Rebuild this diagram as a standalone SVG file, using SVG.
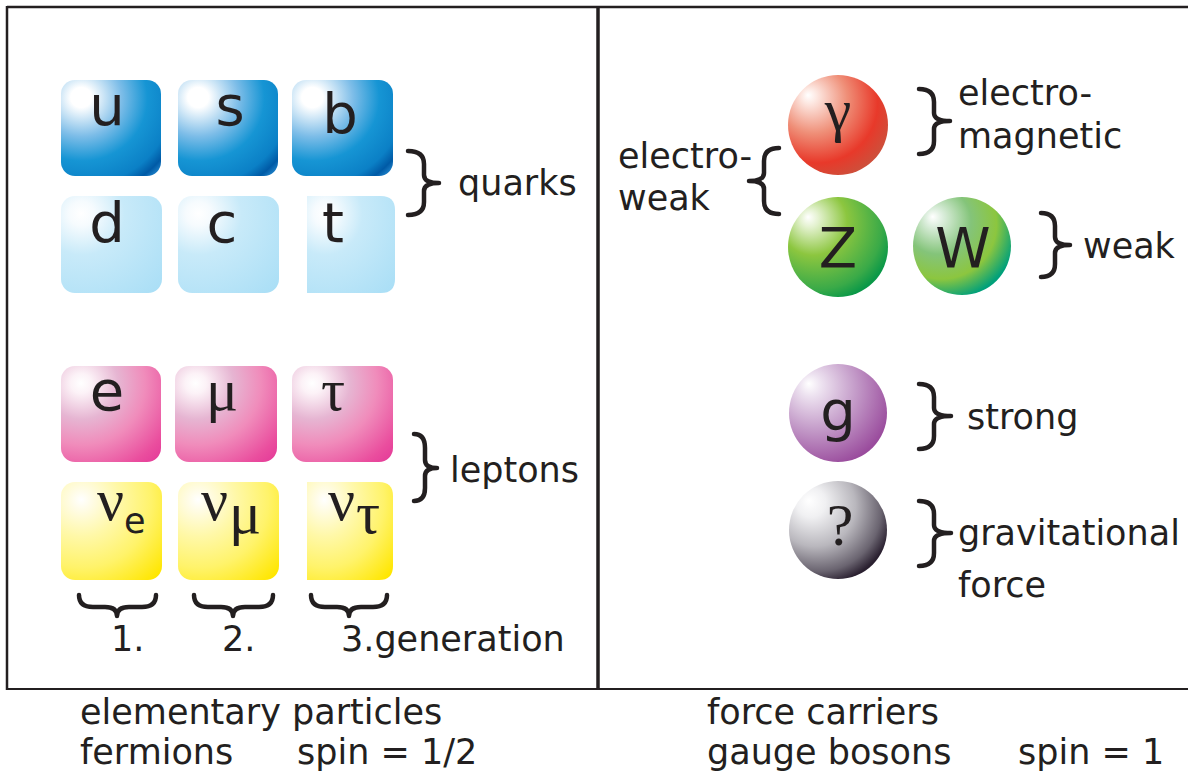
<svg xmlns="http://www.w3.org/2000/svg" width="1188" height="776" viewBox="0 0 1188 776">
<style>
.t{font-family:"DejaVu Sans",Verdana,sans-serif;fill:#231f20;font-size:35px}
.L{font-family:"DejaVu Sans",Verdana,sans-serif;fill:#231f20;font-size:56px;text-anchor:middle}
.G{font-family:"Liberation Serif","Times New Roman",serif;fill:#231f20;font-size:60px}
.br{fill:none;stroke:#231f20;stroke-width:4.5;stroke-linecap:round;stroke-linejoin:round}
.fr{fill:none;stroke:#231f20}
</style>
<defs>
<radialGradient id="gBlue" cx="0.22" cy="0.2" r="1.05" fx="0.2" fy="0.18">
<stop offset="0" stop-color="#ffffff"/><stop offset="0.1" stop-color="#ffffff"/><stop offset="0.38" stop-color="#7dbde8"/><stop offset="0.62" stop-color="#1695d4"/><stop offset="0.85" stop-color="#0b80c6"/><stop offset="0.95" stop-color="#005aa6"/><stop offset="1" stop-color="#1778c0"/>
</radialGradient>
<radialGradient id="gLBlue" cx="0.22" cy="0.2" r="1.05" fx="0.2" fy="0.18">
<stop offset="0" stop-color="#ffffff"/><stop offset="0.12" stop-color="#f6fbfe"/><stop offset="0.4" stop-color="#c8eaf9"/><stop offset="1" stop-color="#abdff6"/>
</radialGradient>
<radialGradient id="gPink" cx="0.22" cy="0.2" r="1.05" fx="0.2" fy="0.18">
<stop offset="0" stop-color="#ffffff"/><stop offset="0.1" stop-color="#fcf2f7"/><stop offset="0.35" stop-color="#e6b5d2"/><stop offset="0.6" stop-color="#f08cbb"/><stop offset="0.9" stop-color="#ea4e9e"/><stop offset="1" stop-color="#e6409a"/>
</radialGradient>
<radialGradient id="gYel" cx="0.22" cy="0.2" r="1.05" fx="0.2" fy="0.18">
<stop offset="0" stop-color="#ffffff"/><stop offset="0.1" stop-color="#fffce6"/><stop offset="0.35" stop-color="#fff8a8"/><stop offset="0.65" stop-color="#fff36a"/><stop offset="1" stop-color="#ffe600"/>
</radialGradient>
<radialGradient id="gRed" cx="0.32" cy="0.3" r="0.75" fx="0.2" fy="0.2">
<stop offset="0" stop-color="#ffffff"/><stop offset="0.1" stop-color="#fde8e2"/><stop offset="0.45" stop-color="#ef8f78"/><stop offset="0.8" stop-color="#e8392a"/><stop offset="1" stop-color="#cf4e3a"/>
</radialGradient>
<radialGradient id="gZ" cx="0.32" cy="0.3" r="0.75" fx="0.2" fy="0.2">
<stop offset="0" stop-color="#ffffff"/><stop offset="0.12" stop-color="#e4f2d0"/><stop offset="0.45" stop-color="#8cc63f"/><stop offset="0.85" stop-color="#3aaa48"/><stop offset="1" stop-color="#0a9848"/>
</radialGradient>
<radialGradient id="gW" cx="0.32" cy="0.3" r="0.75" fx="0.2" fy="0.2">
<stop offset="0" stop-color="#ffffff"/><stop offset="0.12" stop-color="#dceedd"/><stop offset="0.45" stop-color="#84c47a"/><stop offset="0.75" stop-color="#8cc63f"/><stop offset="1" stop-color="#00a07a"/>
</radialGradient>
<radialGradient id="gPur" cx="0.32" cy="0.3" r="0.75" fx="0.2" fy="0.2">
<stop offset="0" stop-color="#ffffff"/><stop offset="0.15" stop-color="#ede2f0"/><stop offset="0.55" stop-color="#c49cc9"/><stop offset="1" stop-color="#9a4c9d"/>
</radialGradient>
<radialGradient id="gGray" cx="0.32" cy="0.3" r="0.75" fx="0.2" fy="0.2">
<stop offset="0" stop-color="#ffffff"/><stop offset="0.2" stop-color="#f0f0f2"/><stop offset="0.55" stop-color="#b9b7bd"/><stop offset="0.85" stop-color="#6a6470"/><stop offset="1" stop-color="#2a2030"/>
</radialGradient>
</defs>

<g id="frame">
<line class="fr" x1="7" y1="7" x2="1188" y2="7" stroke-width="2.5"/>
<line class="fr" x1="7" y1="6" x2="7" y2="690" stroke-width="2.5"/>
<line class="fr" x1="7" y1="689" x2="1188" y2="689" stroke-width="2"/>
<line class="fr" x1="598" y1="6" x2="598" y2="690" stroke-width="3.5"/>
</g>

<g id="quark-u"><rect x="61" y="80" width="100" height="96" rx="14" fill="url(#gBlue)"/><text class="L" x="107" y="125">u</text></g>
<g id="quark-s"><rect x="178" y="80" width="100" height="96" rx="14" fill="url(#gBlue)"/><text class="L" x="230" y="125">s</text></g>
<g id="quark-b"><rect x="292" y="80" width="101" height="96" rx="14" fill="url(#gBlue)"/><text class="L" x="340" y="133">b</text></g>
<g id="quark-d"><rect x="61" y="196" width="101" height="97" rx="14" fill="url(#gLBlue)"/><text class="L" x="107" y="242">d</text></g>
<g id="quark-c"><rect x="178" y="196" width="101" height="97" rx="14" fill="url(#gLBlue)"/><text class="L" x="222" y="242">c</text></g>
<g id="quark-t"><path d="M307,196 H381 Q395,196 395,210 V279 Q395,293 381,293 H307 Z" fill="url(#gLBlue)"/><text class="L" x="333" y="242">t</text></g>

<g id="lepton-e"><rect x="61" y="366" width="100" height="96" rx="14" fill="url(#gPink)"/><text class="L" x="107" y="410">e</text></g>
<g id="lepton-mu"><rect x="175" y="366" width="102" height="96" rx="14" fill="url(#gPink)"/><text class="G" x="222" y="410" text-anchor="middle">μ</text></g>
<g id="lepton-tau"><rect x="292" y="366" width="101" height="96" rx="14" fill="url(#gPink)"/><text class="G" x="333" y="410" text-anchor="middle">τ</text></g>
<g id="nu-e"><rect x="61" y="482" width="101" height="98" rx="14" fill="url(#gYel)"/><text class="G" x="97" y="520" font-size="56">ν</text><text class="t" x="124" y="533" font-size="28">e</text></g>
<g id="nu-mu"><rect x="178" y="482" width="101" height="98" rx="14" fill="url(#gYel)"/><text class="G" x="201" y="520" font-size="56">ν</text><text class="G" x="229" y="533" font-size="32">μ</text></g>
<g id="nu-tau"><path d="M307,482 H379 Q393,482 393,496 V566 Q393,580 379,580 H307 Z" fill="url(#gYel)"/><text class="G" x="328" y="520" font-size="56">ν</text><text class="G" x="356" y="533" font-size="32">τ</text></g>

<g id="photon"><circle cx="838" cy="125" r="50" fill="url(#gRed)"/><text class="G" x="838" y="130" text-anchor="middle" font-size="58">γ</text></g>
<g id="Z"><circle cx="838" cy="247" r="50" fill="url(#gZ)"/><text class="L" x="838" y="267" font-size="54">Z</text></g>
<g id="W"><circle cx="962" cy="246" r="49" fill="url(#gW)"/><text class="L" x="963" y="267" font-size="54">W</text></g>
<g id="gluon"><circle cx="838" cy="413" r="49" fill="url(#gPur)"/><text class="L" x="838" y="430" font-size="60">g</text></g>
<g id="graviton"><circle cx="838" cy="530" r="49" fill="url(#gGray)"/><text class="G" x="840" y="545" text-anchor="middle" font-size="56">?</text></g>

<g id="braces">
<path class="br" d="M408,151 Q424,151 424,164 L424,175 Q424,183 439,183 Q424,183 424,191 L424,202 Q424,215 408,215"/>
<path class="br" d="M414,434 Q425,434 425,448 L425,460 Q425,468 437,468 Q425,468 425,476 L425,488 Q425,501 414,501"/>
<path class="br" d="M779,148 Q764,148 764,161 L764,173 Q764,181 749,181 Q764,181 764,189 L764,201 Q764,214 779,214"/>
<path class="br" d="M919,89 Q934,89 934,102 L934,113 Q934,121 950,121 Q934,121 934,129 L934,141 Q934,154 919,154"/>
<path class="br" d="M1041,213 Q1055,213 1055,226 L1055,237 Q1055,245 1070,245 Q1055,245 1055,253 L1055,264 Q1055,277 1041,277"/>
<path class="br" d="M919,384 Q934,384 934,397 L934,408 Q934,416 951,416 Q934,416 934,424 L934,436 Q934,449 919,449"/>
<path class="br" d="M919,501 Q934,501 934,514 L934,525 Q934,533 951,533 Q934,533 934,541 L934,553 Q934,566 919,566"/>
<path class="br" d="M79,595 Q79,607 93,607 L105,607 Q117,607 117,616 Q117,607 129,607 L142,607 Q156,607 156,595"/>
<path class="br" d="M194,595 Q194,607 208,607 L221,607 Q233,607 233,616 Q233,607 245,607 L259,607 Q273,607 273,595"/>
<path class="br" d="M311,595 Q311,607 325,607 L337,607 Q349,607 349,616 Q349,607 361,607 L373,607 Q387,607 387,595"/>
</g>

<g id="labels">
<text class="t" x="111" y="651">1.</text>
<text class="t" x="222" y="651">2.</text>
<text class="t" x="341" y="651">3.generation</text>
<text class="t" x="458" y="195">quarks</text>
<text class="t" x="450" y="482">leptons</text>
<text class="t" x="80" y="724">elementary particles</text>
<text class="t" x="80" y="764">fermions</text>
<text class="t" x="297" y="764">spin = 1/2</text>
<text class="t" x="707" y="724">force carriers</text>
<text class="t" x="707" y="764">gauge bosons</text>
<text class="t" x="1018" y="764">spin = 1</text>
<text class="t" x="618" y="168">electro-</text>
<text class="t" x="618" y="210">weak</text>
<text class="t" x="958" y="105">electro-</text>
<text class="t" x="958" y="148">magnetic</text>
<text class="t" x="1083" y="258">weak</text>
<text class="t" x="967" y="429">strong</text>
<text class="t" x="958" y="545">gravitational</text>
<text class="t" x="958" y="597">force</text>
</g>
</svg>
